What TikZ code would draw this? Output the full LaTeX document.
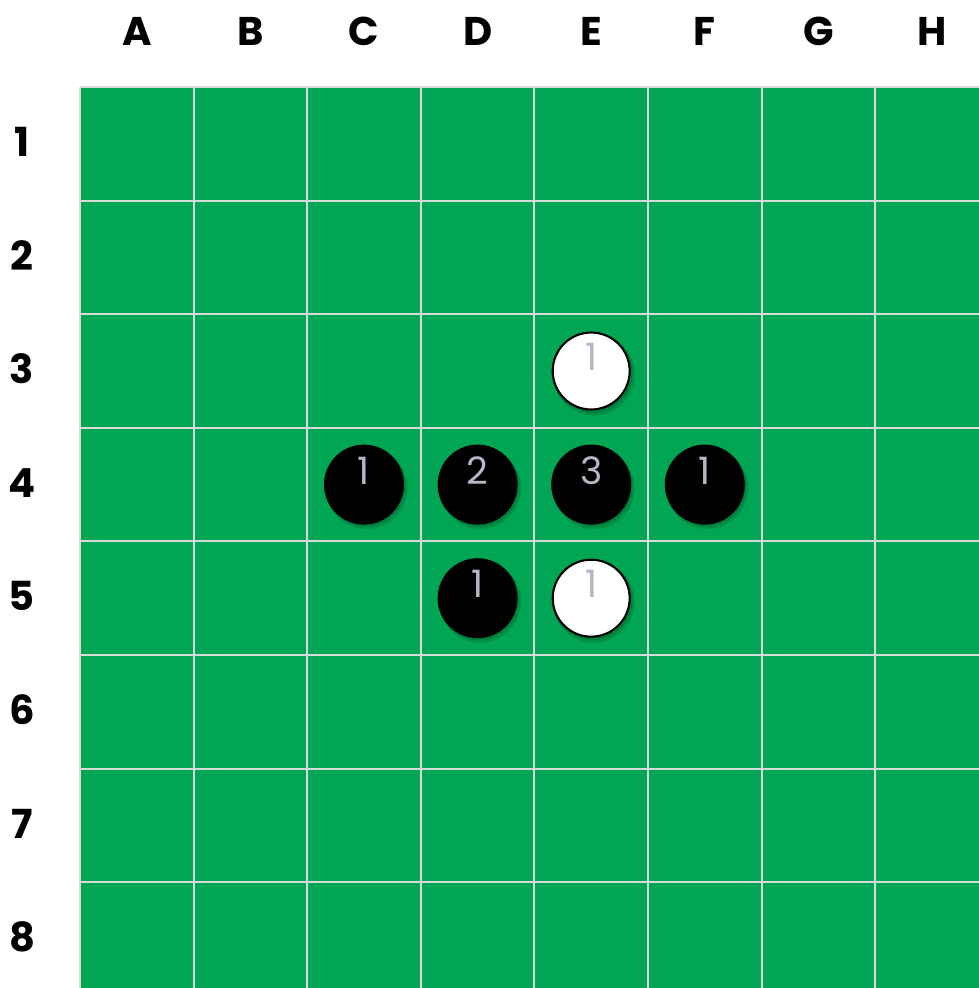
\documentclass[tikz,border=0pt]{standalone}
\usepackage{fontspec}
\setmainfont{Poppins}
\usetikzlibrary{calc}
\definecolor{boardgreen}{HTML}{00A653}
\definecolor{gridgray}{HTML}{D9D9D9}
\definecolor{numgray}{HTML}{B3B7C6}

\tikzset{
  coordlabel/.style={font=\fontsize{22.8}{24}\selectfont\bfseries, inner sep=0pt},
  stonenum/.style={font=\fontsize{21.5}{23}\selectfont, text=numgray, inner sep=0pt},
  blackstone/.style={circle, fill=black, minimum size=1.6cm, inner sep=0pt},
  whitestone/.style={circle, fill=white, draw=black, line width=1.2pt, minimum size=1.54cm, inner sep=0pt}
}

\begin{document}
\begin{tikzpicture}[x=0.02cm, y=-0.02cm]
  \useasboundingbox (0,0) rectangle (979,988);
  \clip (0,0) rectangle (979,988);
  \def\cell{113.6}
  % board
  \fill[boardgreen] (80,87) rectangle (80+8*\cell, 87+8*\cell);
  \foreach \i in {0,...,8} {
    \draw[gridgray, line width=1.1pt] (80+\i*\cell, 87) -- (80+\i*\cell, 87+8*\cell);
    \draw[gridgray, line width=1.1pt] (80, 87+\i*\cell) -- (80+8*\cell, 87+\i*\cell);
  }
  % coordinates
  \foreach \l [count=\c] in {A,B,C,D,E,F,G,H} {
    \node[coordlabel] (col-\l) at (80+\c*\cell-0.5*\cell, 31) {\l};
  }
  \foreach \r in {1,...,8} {
    \node[coordlabel] (row-\r) at (22, 87+\r*\cell-0.5*\cell-2) {\r};
  }
  % stones
  \foreach \c/\r/\s/\n in {5/3/white/1, 3/4/black/1, 4/4/black/2, 5/4/black/3, 6/4/black/1, 4/5/black/1, 5/5/white/1} {
    \fill[black, opacity=0.12] (80+\c*\cell-0.5*\cell+2.5, 87+\r*\cell-0.5*\cell+3.5) circle (41);
    \fill[black, opacity=0.12] (80+\c*\cell-0.5*\cell+1.5, 87+\r*\cell-0.5*\cell+2) circle (40);
    \node[\s stone] (stone-\c\r) at (80+\c*\cell-0.5*\cell, 87+\r*\cell-0.5*\cell) {};
    \node[stonenum] (num-\c\r) at ($(stone-\c\r.center)+(0,-14)$) {\n};
  }
\end{tikzpicture}
\end{document}
